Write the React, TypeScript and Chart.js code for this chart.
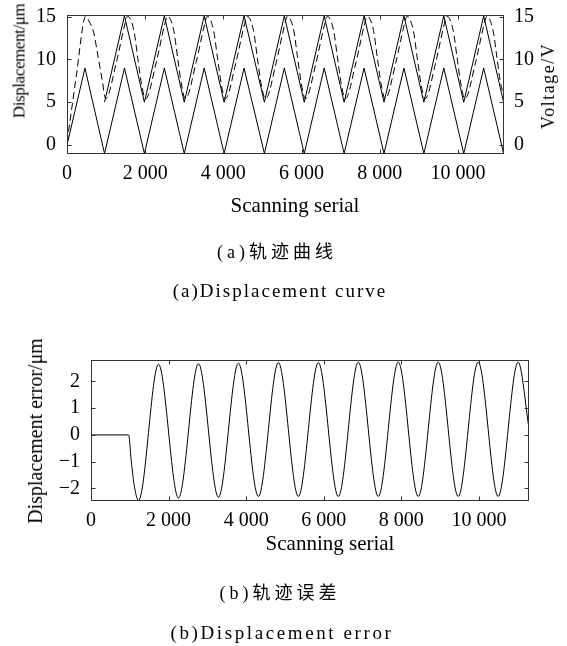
import React, { useEffect, useRef } from "react";
import { Chart, registerables } from "chart.js";

Chart.register(...registerables);

// ---------- data ----------
const topXTicks = [0, 2000, 4000, 6000, 8000, 10000];
const topYTicks = [0, 5, 10, 15];
const voltageTicks = [0, 5, 10, 15];
const errXTicks = [0, 2000, 4000, 6000, 8000, 10000];
const errYTicks = [-2, -1, 0, 1, 2];

// lower solid triangle (displacement)
const lowerSolid: [number, number][] = [
  [0, 0], [460, 9], [960, -1], [1470, 9], [1980, -1], [2490, 9], [3000, -1],
  [3510, 9], [4020, -1], [4530, 9], [5050, -1], [5560, 9], [6070, -1],
  [6580, 9], [7090, -1], [7600, 9], [8110, -1], [8620, 9], [9130, -1],
  [9640, 9], [10150, -1], [10660, 9], [11170, -1],
];

// upper solid triangle (voltage)
const upperSolid: [number, number][] = [
  [960, 5], [1470, 15.1], [1980, 5], [2490, 15.1], [3000, 5], [3510, 15.1],
  [4020, 5], [4530, 15.1], [5050, 5], [5560, 15.1], [6070, 5], [6580, 15.1],
  [7090, 5], [7600, 15.1], [8110, 5], [8620, 15.1], [9130, 5], [9640, 15.1],
  [10150, 5], [10660, 15.1], [11170, 5],
];

// dashed curve (measured displacement)
const dashedCurve: [number, number][] = [
  [0, 0.3], [250, 8.5], [420, 14.3], [475, 15.05], [560, 14.5], [680, 13.2], [800, 10.2], [900, 7.6],
  [990, 5.4], [1260, 9.6], [1470, 13.9], [1550, 15.05], [1710, 13.4], [1810, 10.2], [1900, 7.3],
  [2010, 5.4], [2280, 9.6], [2490, 13.9], [2570, 15.05], [2730, 13.4], [2830, 10.2], [2920, 7.3],
  [3030, 5.4], [3300, 9.6], [3510, 13.9], [3590, 15.05], [3750, 13.4], [3850, 10.2], [3940, 7.3],
  [4050, 5.4], [4320, 9.6], [4530, 13.9], [4610, 15.05], [4770, 13.4], [4870, 10.2], [4960, 7.3],
  [5080, 5.4], [5350, 9.6], [5560, 13.9], [5640, 15.05], [5800, 13.4], [5900, 10.2], [5990, 7.3],
  [6100, 5.4], [6370, 9.6], [6580, 13.9], [6660, 15.05], [6820, 13.4], [6920, 10.2], [7010, 7.3],
  [7120, 5.4], [7390, 9.6], [7600, 13.9], [7680, 15.05], [7840, 13.4], [7940, 10.2], [8030, 7.3],
  [8140, 5.4], [8410, 9.6], [8620, 13.9], [8700, 15.05], [8860, 13.4], [8960, 10.2], [9050, 7.3],
  [9160, 5.4], [9430, 9.6], [9640, 13.9], [9720, 15.05], [9880, 13.4], [9980, 10.2], [10070, 7.3],
  [10180, 5.4], [10450, 9.6], [10660, 13.9], [10740, 15.05], [10900, 13.4], [11000, 10.2], [11090, 7.3],
  [11175, 5.8],
];

// displacement error
const errorCurve: [number, number][] = [
  [0, 0], [968, 0], [1040, -1.0], [1110, -1.85], [1225, -2.45],
  [1740, 2.64], [2255, -2.36], [2770, 2.66], [3285, -2.33], [3800, 2.68],
  [4315, -2.3], [4830, 2.7], [5345, -2.3], [5860, 2.7], [6375, -2.3],
  [6890, 2.72], [7405, -2.3], [7920, 2.72], [8435, -2.3], [8950, 2.72],
  [9465, -2.3], [9980, 2.72], [10495, -2.3], [11010, 2.72], [11290, 0.25],
];

const topRange = { xMin: 0, xMax: 11180, yMin: -1.05, yMax: 15.2 };
const errRange = { xMin: 0, xMax: 11290, yMin: -2.47, yMax: 2.8 };

// ---------- helpers ----------
const SERIF = '"Liberation Serif", "Times New Roman", serif';
const fmtNum = (v: number) => {
  const s = Math.abs(v).toString().replace(/\B(?=(\d{3})+(?!\d))/g, " ");
  return (v < 0 ? "\u2212" : "") + s;
};
const pts = (arr: [number, number][]) => arr.map(([x, y]) => ({ x, y }));

const framePlugin = {
  id: "frameTicks",
  afterDraw(chart: any) {
    const { ctx, chartArea } = chart;
    const l = Math.round(chartArea.left) + 0.5;
    const r = Math.round(chartArea.right) - 0.5;
    const t = Math.round(chartArea.top) + 0.5;
    const b = Math.round(chartArea.bottom) - 0.5;
    const len = 4;
    ctx.save();
    ctx.strokeStyle = "#333";
    ctx.lineWidth = 1;
    ctx.strokeRect(l, t, r - l, b - t);
    ctx.beginPath();
    const xs = chart.scales.x;
    xs.ticks.forEach((tk: any) => {
      const px = Math.round(xs.getPixelForValue(tk.value)) + 0.5;
      ctx.moveTo(px, b); ctx.lineTo(px, b - len);
      ctx.moveTo(px, t); ctx.lineTo(px, t + len);
    });
    const ys = chart.scales.y;
    ys.ticks.forEach((tk: any) => {
      const py = Math.round(ys.getPixelForValue(tk.value)) + 0.5;
      ctx.moveTo(l, py); ctx.lineTo(l + len, py);
      ctx.moveTo(r, py); ctx.lineTo(r - len, py);
    });
    ctx.stroke();
    ctx.restore();
  },
};

const tickFont = { family: SERIF, size: 20 };

function TopChart() {
  const ref = useRef<HTMLCanvasElement | null>(null);
  useEffect(() => {
    if (!ref.current) return;
    const chart = new Chart(ref.current, {
      type: "line",
      data: {
        datasets: [
          { data: pts(lowerSolid), borderColor: "#000", borderWidth: 1, pointRadius: 0, tension: 0 },
          { data: pts(upperSolid), borderColor: "#000", borderWidth: 1, pointRadius: 0, tension: 0 },
          {
            data: pts(dashedCurve), borderColor: "#000", borderWidth: 1, pointRadius: 0,
            borderDash: [7, 4], cubicInterpolationMode: "monotone",
          },
        ],
      } as any,
      options: {
        responsive: false,
        animation: false,
        events: [],
        layout: { padding: { top: 13, left: 0, right: 0, bottom: 0 } },
        plugins: { legend: { display: false }, tooltip: { enabled: false } },
        scales: {
          x: {
            type: "linear", min: topRange.xMin, max: topRange.xMax,
            grid: { display: false }, border: { display: false },
            afterBuildTicks: (s: any) => { s.ticks = topXTicks.map((v) => ({ value: v })); },
            afterFit: (s: any) => { s.height = 76; },
            ticks: { color: "#000", font: tickFont, padding: 0, maxRotation: 0, autoSkip: false, callback: (v: any) => fmtNum(Number(v)) },
          },
          y: {
            type: "linear", position: "left", min: topRange.yMin, max: topRange.yMax,
            grid: { display: false }, border: { display: false },
            afterBuildTicks: (s: any) => { s.ticks = topYTicks.map((v) => ({ value: v })); },
            afterFit: (s: any) => { s.width = 67; },
            ticks: { color: "#000", font: tickFont, padding: 3, callback: (v: any) => fmtNum(Number(v)) },
          },
          y1: {
            type: "linear", position: "right", min: topRange.yMin, max: topRange.yMax,
            grid: { display: false }, border: { display: false },
            afterBuildTicks: (s: any) => { s.ticks = voltageTicks.map((v) => ({ value: v })); },
            afterFit: (s: any) => { s.width = 63; },
            ticks: { color: "#000", font: tickFont, padding: 2, callback: (v: any) => fmtNum(Number(v)) },
          },
        },
      } as any,
      plugins: [framePlugin],
    });
    return () => chart.destroy();
  }, []);
  return <canvas ref={ref} width={567} height={230} style={{ position: "absolute", left: 0, top: 0 }} />;
}

function ErrorChart() {
  const ref = useRef<HTMLCanvasElement | null>(null);
  useEffect(() => {
    if (!ref.current) return;
    const chart = new Chart(ref.current, {
      type: "line",
      data: {
        datasets: [
          {
            data: pts(errorCurve), borderColor: "#000", borderWidth: 1, pointRadius: 0,
            cubicInterpolationMode: "monotone",
          },
        ],
      } as any,
      options: {
        responsive: false,
        animation: false,
        events: [],
        layout: { padding: { top: 50, left: 0, right: 38, bottom: 0 } },
        plugins: { legend: { display: false }, tooltip: { enabled: false } },
        scales: {
          x: {
            type: "linear", min: errRange.xMin, max: errRange.xMax,
            grid: { display: false }, border: { display: false },
            afterBuildTicks: (s: any) => { s.ticks = errXTicks.map((v) => ({ value: v })); },
            afterFit: (s: any) => { s.height = 59; },
            ticks: { color: "#000", font: tickFont, padding: 0, maxRotation: 0, autoSkip: false, callback: (v: any) => fmtNum(Number(v)) },
          },
          y: {
            type: "linear", position: "left", min: errRange.yMin, max: errRange.yMax,
            grid: { display: false }, border: { display: false },
            afterBuildTicks: (s: any) => { s.ticks = errYTicks.map((v) => ({ value: v })); },
            afterFit: (s: any) => { s.width = 91; },
            ticks: { color: "#000", font: tickFont, padding: 3, callback: (v: any) => fmtNum(Number(v)) },
          },
        },
      } as any,
      plugins: [framePlugin],
    });
    return () => chart.destroy();
  }, []);
  return <canvas ref={ref} width={567} height={250} style={{ position: "absolute", left: 0, top: 310 }} />;
}

const textBase: React.CSSProperties = {
  position: "absolute",
  whiteSpace: "nowrap",
  color: "#000",
  fontFamily: SERIF,
  lineHeight: 1,
};

function Label(props: { x: number; y: number; size: number; rotate?: boolean; spacing?: number; family?: string; children: React.ReactNode }) {
  const { x, y, size, rotate, spacing, family, children } = props;
  return (
    <div
      style={{
        ...textBase,
        left: x,
        top: y,
        fontSize: size,
        letterSpacing: spacing ?? 0,
        fontFamily: family ?? SERIF,
        transform: `translate(-50%, -50%)${rotate ? " rotate(-90deg)" : ""}`,
      }}
    >
      {children}
    </div>
  );
}

const CAPTION_FONT = '"Liberation Serif", "Noto Sans CJK SC", serif';

export default function App() {
  return (
    <div style={{ position: "absolute", left: 0, top: 0, width: 567, height: 646, background: "#fff", overflow: "hidden" }}>
      <TopChart />
      <ErrorChart />
      <Label x={18.5} y={61} size={17} rotate spacing={-0.4}>Displacement/μm</Label>
      <Label x={548} y={86} size={18} rotate spacing={1.5}>Voltage/V</Label>
      <Label x={295} y={205} size={21}>Scanning serial</Label>
      <Label x={277} y={252} size={18} spacing={4} family={CAPTION_FONT}>(a)轨迹曲线</Label>
      <Label x={280} y={290} size={19} spacing={2} family={CAPTION_FONT}>(a)Displacement curve</Label>
      <Label x={35} y={431} size={20} rotate>Displacement error/μm</Label>
      <Label x={330} y={543} size={21}>Scanning serial</Label>
      <Label x={280} y={593} size={18} spacing={4} family={CAPTION_FONT}>(b)轨迹误差</Label>
      <Label x={282} y={632} size={19} spacing={2.6} family={CAPTION_FONT}>(b)Displacement error</Label>
    </div>
  );
}
